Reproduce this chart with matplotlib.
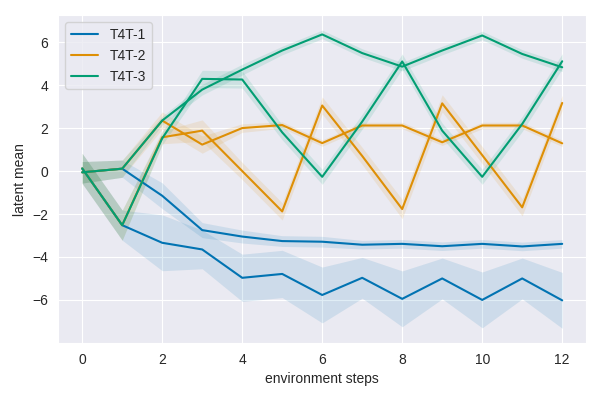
import matplotlib
matplotlib.use("Agg")
import matplotlib.pyplot as plt
import numpy as np
import seaborn as sns

steps = np.arange(13)

# two latent dimensions per model: mean and half-width of the confidence band
t4t1_a = [-0.06, 0.11, -1.15, -2.75, -3.05, -3.26, -3.29, -3.43, -3.39, -3.50, -3.39, -3.51, -3.39]
t4t1_a_err = [0.5, 0.4, 0.6, 0.35, 0.3, 0.25, 0.25, 0.2, 0.2, 0.2, 0.2, 0.2, 0.2]
t4t1_b = [0.12, -2.52, -3.34, -3.65, -4.97, -4.79, -5.77, -4.97, -5.95, -5.00, -6.00, -5.00, -6.02]
t4t1_b_err = [0.7, 0.7, 1.3, 0.9, 1.1, 1.1, 1.3, 0.95, 1.3, 0.95, 1.3, 0.95, 1.3]

t4t2_a = [-0.06, 0.11, 2.35, 1.23, 2.00, 2.14, 1.30, 2.12, 2.12, 1.34, 2.12, 2.12, 1.29]
t4t2_a_err = [0.5, 0.4, 0.4, 0.4, 0.2, 0.15, 0.15, 0.15, 0.15, 0.15, 0.15, 0.15, 0.15]
t4t2_b = [0.12, -2.52, 1.57, 1.88, 0.00, -1.88, 3.05, 0.70, -1.77, 3.15, 0.74, -1.69, 3.17]
t4t2_b_err = [0.7, 0.7, 0.3, 0.5, 0.4, 0.4, 0.4, 0.4, 0.45, 0.4, 0.4, 0.4, 0.35]

t4t3_a = [-0.06, 0.11, 2.35, 3.79, 4.72, 5.61, 6.36, 5.49, 4.86, 5.61, 6.31, 5.45, 4.83]
t4t3_a_err = [0.5, 0.4, 0.2, 0.25, 0.25, 0.2, 0.2, 0.2, 0.2, 0.2, 0.2, 0.2, 0.2]
t4t3_b = [0.12, -2.52, 1.52, 4.29, 4.26, 1.80, -0.27, 2.30, 5.10, 1.88, -0.27, 2.19, 5.11]
t4t3_b_err = [0.7, 0.7, 0.3, 0.4, 0.4, 0.35, 0.35, 0.35, 0.35, 0.35, 0.35, 0.35, 0.35]

labels = ["T4T-1", "T4T-2", "T4T-3"]
series = [
    [(t4t1_a, t4t1_a_err), (t4t1_b, t4t1_b_err)],
    [(t4t2_a, t4t2_a_err), (t4t2_b, t4t2_b_err)],
    [(t4t3_a, t4t3_a_err), (t4t3_b, t4t3_b_err)],
]

sns.set_style("darkgrid")
plt.rcParams['font.family'] = ['Liberation Sans', 'DejaVu Sans']
colors = sns.color_palette("colorblind")

fig, ax = plt.subplots(figsize=(6, 4), dpi=100)
for i, (label, dims) in enumerate(zip(labels, series)):
    for j, (mean, err) in enumerate(dims):
        mean = np.array(mean)
        err = np.array(err)
        ax.plot(steps, mean, color=colors[i], lw=1.5,
                label=label if j == 0 else None)
        ax.fill_between(steps, mean - err, mean + err,
                        color=colors[i], alpha=0.12, lw=0)

ax.set_xlabel("environment steps")
ax.set_ylabel("latent mean")
ax.set_xticks(range(0, 13, 2))
ax.set_yticks(range(-6, 7, 2))
ax.legend(loc="upper left")
fig.subplots_adjust(left=0.097, right=0.977, top=0.962, bottom=0.142)
fig.savefig("out.png")
